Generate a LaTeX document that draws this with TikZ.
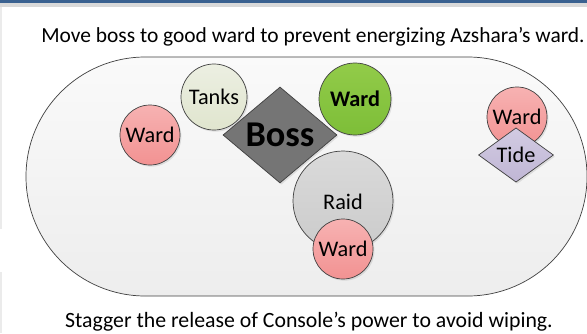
\documentclass[tikz,border=0pt]{standalone}
\usepackage{fontspec}
\setmainfont{Carlito}
\usetikzlibrary{shapes.geometric,shadows}

\definecolor{edgegray}{HTML}{404040}
\definecolor{barblue}{HTML}{3A6190}
\definecolor{wardtop}{HTML}{F7B2B2}
\definecolor{wardbot}{HTML}{F29292}
\definecolor{tanktop}{HTML}{ECEFE2}
\definecolor{tankbot}{HTML}{E0E5CE}
\definecolor{goodtop}{HTML}{92CB49}
\definecolor{goodbot}{HTML}{7DBE38}
\definecolor{raidtop}{HTML}{DADADA}
\definecolor{raidbot}{HTML}{CBCBCB}
\definecolor{tidetop}{HTML}{D2CBE2}
\definecolor{tidebot}{HTML}{C0B6D5}

\tikzset{
	unit/.style={draw=edgegray, line width=0.6pt, inner sep=0pt,
		drop shadow={opacity=0.2, shadow xshift=1.2pt, shadow yshift=-1.4pt}},
	ward/.style={unit, circle, minimum size=1.8cm, top color=wardtop, bottom color=wardbot, font=\fontsize{19}{22}\selectfont},
	goodward/.style={ward, minimum size=2.16cm, top color=goodtop, bottom color=goodbot, font=\fontsize{19}{22}\selectfont\bfseries},
	tanks/.style={unit, circle, minimum size=1.98cm, top color=tanktop, bottom color=tankbot, font=\fontsize{19}{22}\selectfont},
	raid/.style={unit, circle, minimum size=3cm, top color=raidtop, bottom color=raidbot, font=\fontsize{19}{22}\selectfont},
	boss/.style={unit, diamond, minimum width=3.42cm, minimum height=2.88cm, fill=black!54, font=\fontsize{31}{36}\selectfont\bfseries},
	tide/.style={unit, diamond, minimum width=2.25cm, minimum height=1.62cm, top color=tidetop, bottom color=tidebot, font=\fontsize{19}{22}\selectfont},
	caption/.style={anchor=base, font=\fontsize{18.6}{22}\selectfont}
}

\begin{document}
\begin{tikzpicture}[x=0.03cm, y=-0.03cm]
	\useasboundingbox (0,0) rectangle (587,333);
	\fill[white] (0,0) rectangle (587,333);
	% window chrome
	\fill[barblue] (0,0) rectangle (587,3);
	\fill[black!15] (0,3) rectangle (587,7);
	\draw[black!8, line width=1.2pt] (1,7) -- (1,229);
	\draw[black!8, line width=1.2pt] (1,272) -- (1,333);

	\node[caption, font=\fontsize{18.3}{22}\selectfont] (move) at (313,42) {Move boss to good ward to prevent energizing Azshara’s ward.};

	% arena
	\draw[edgegray, line width=0.6pt, top color=white!98!black, bottom color=black!7,
		rounded corners=3.58cm] (26,57) rectangle (587,296);

	\node[ward] (ward1) at (150,135) {Ward};
	\node[tanks] (tanks) at (214,97) {Tanks};
	\node[boss] (boss) at (280,135) {Boss};
	\node[goodward] (ward2) at (355,99) {Ward};
	\node[raid] (raid) at (343,201) {};
	\node[font=\fontsize{19}{22}\selectfont] (raidtxt) at (343,202) {Raid};
	\node[ward] (ward3) at (343,249) {Ward};
	\node[ward] (ward4) at (517,117) {Ward};
	\node[tide] (tide) at (516,155) {Tide};

	\node[caption] (stagger) at (309,327) {Stagger the release of Console’s power to avoid wiping.};
\end{tikzpicture}
\end{document}
